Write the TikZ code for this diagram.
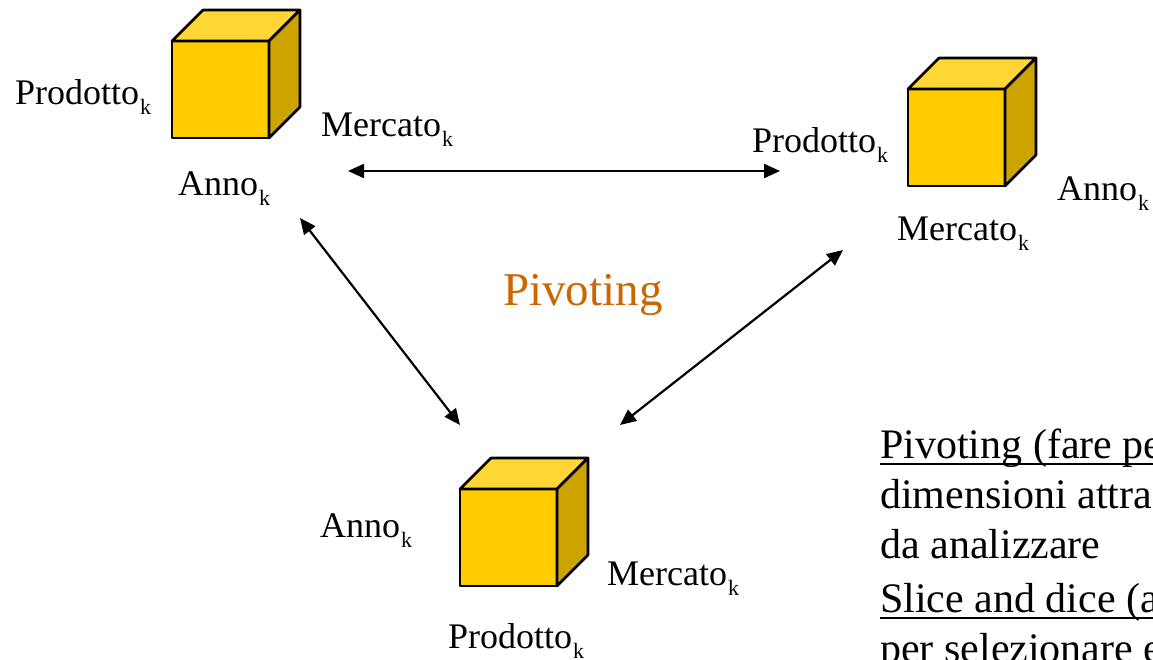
\documentclass[tikz,border=0pt]{standalone}
\usepackage{fontspec}
\setmainfont{Liberation Serif}
\usetikzlibrary{arrows.meta}
\definecolor{cubefront}{RGB}{255,204,0}
\definecolor{cubetop}{RGB}{255,214,51}
\definecolor{cubeside}{RGB}{204,163,0}
\definecolor{pivorange}{RGB}{204,102,0}
\newcommand{\dimlab}[1]{#1\kern1pt\raisebox{-10.5pt}{\fontsize{22}{22}\selectfont k}}
\begin{document}
\begin{tikzpicture}[x=1pt,y=-1pt,
  lab/.style={anchor=base west,inner sep=0pt,font=\fontsize{36}{43}\selectfont},
  body/.style={anchor=base west,inner sep=0pt,font=\fontsize{42}{50}\selectfont},
  dbl/.style={{Triangle[length=16pt,width=14pt]}-{Triangle[length=16pt,width=14pt]},line width=2.2pt},
  uline/.style={line width=2.5pt},
  face/.style={draw=black,line width=2.6pt,line join=round},
  cube/.pic={
    \filldraw[face,fill=cubefront] (0,0) rectangle (97,97);
    \filldraw[face,fill=cubetop] (0,0) -- (31,-31) -- (128,-31) -- (97,0) -- cycle;
    \filldraw[face,fill=cubeside] (97,0) -- (128,-31) -- (128,66) -- (97,97) -- cycle;
  }]
\useasboundingbox (0,0) rectangle (1153,659);
\clip (0,0) rectangle (1153,659);
% cubes
\pic at (172,41) {cube};
\pic at (908,89) {cube};
\pic at (460,489) {cube};
% labels
\node[lab] (c1p) at (15,104) {\dimlab{Prodotto}};
\node[lab] (c1m) at (321,136) {\dimlab{Mercato}};
\node[lab] (c1a) at (178,195) {\dimlab{Anno}};
\node[lab] (c2p) at (752,152) {\dimlab{Prodotto}};
\node[lab] (c2a) at (1057,200) {\dimlab{Anno}};
\node[lab] (c2m) at (897,240) {\dimlab{Mercato}};
\node[lab] (c3a) at (320,537) {\dimlab{Anno}};
\node[lab] (c3m) at (607,585) {\dimlab{Mercato}};
\node[lab] (c3p) at (448,648) {\dimlab{Prodotto}};
\node[anchor=base west,inner sep=0pt,font=\fontsize{47}{56}\selectfont,text=pivorange] (piv) at (503,305) {Pivoting};
% arrows
\coordinate (hL) at (348,171);
\coordinate (hR) at (780,171);
\coordinate (dlT) at (300,218);
\coordinate (dlB) at (460,425);
\coordinate (drT) at (843,250);
\coordinate (drB) at (620,425);
\draw[dbl] (hL) -- (hR);
\draw[dbl] (dlT) -- (dlB);
\draw[dbl] (drT) -- (drB);
% body text
\node[body] (t1) at (880,458) {Pivoting (fare pe};
\node[body] (t2) at (880,508) {dimensioni attra};
\node[body] (t3) at (880,558) {da analizzare};
\node[body] (t4) at (880,612) {Slice and dice (a};
\node[body] (t5) at (880,662) {per selezionare e};
\coordinate (u1) at (880,464);
\coordinate (u1e) at (1160,464);
\coordinate (u4) at (880,618);
\coordinate (u4e) at (1160,618);
\draw[uline] (u1) -- (u1e);
\draw[uline] (u4) -- (u4e);
\end{tikzpicture}
\end{document}
